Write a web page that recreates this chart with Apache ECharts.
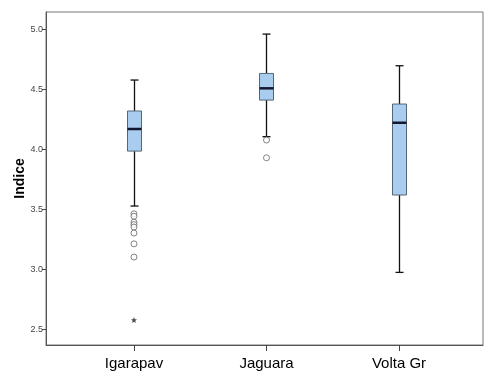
<!DOCTYPE html>
<html>
<head>
<meta charset="utf-8">
<script src="https://cdn.jsdelivr.net/npm/echarts@6/dist/echarts.min.js"></script>
<style>html,body{margin:0;padding:0;background:#fff;}#c{width:485px;height:372px;}</style>
</head>
<body>
<div id="c"></div>
<script>
var categories = ['Igarapav', 'Jaguara', 'Volta Gr'];
var lowerWhisker = [3.525, 4.103, 2.972];
var q1 = [3.983, 4.408, 3.617];
var median = [4.167, 4.506, 4.219];
var q3 = [4.317, 4.630, 4.375];
var upperWhisker = [4.575, 4.958, 4.694];
var outliersIgarapav = [3.46, 3.44, 3.39, 3.37, 3.35, 3.30, 3.21, 3.10];
var outliersJaguara = [4.075, 3.927];
var outliersVolta = [];
var extremesIgarapav = [2.575];
var yTicks = [2.5, 3.0, 3.5, 4.0, 4.5, 5.0];

var boxData = categories.map(function (c, i) {
  return [i + 1, lowerWhisker[i], q1[i], median[i], q3[i], upperWhisker[i]];
});
var outlierData = [];
[outliersIgarapav, outliersJaguara, outliersVolta].forEach(function (arr, i) {
  arr.forEach(function (v) { outlierData.push([i + 1, v]); });
});
var extremeData = extremesIgarapav.map(function (v) { return [1, v]; });

var chart = echarts.init(document.getElementById('c'), null, {renderer: 'canvas'});
chart.setOption({
  animation: false,
  backgroundColor: '#fff',
  grid: {left: 46, right: 2, top: 12, bottom: 27, show: true, borderColor: '#777', borderWidth: 1},
  xAxis: {
    type: 'value', min: 0.336, max: 3.634,
    splitLine: {show: false},
    axisLine: {show: true, lineStyle: {color: '#555', width: 1}},
    axisTick: {show: true, length: 6, lineStyle: {color: '#444'}, customValues: [1, 2, 3]},
    axisLabel: {
      customValues: [1, 2, 3], margin: 11,
      fontFamily: 'Liberation Sans, Arial, sans-serif', fontSize: 15, color: '#000',
      formatter: function (v) { return categories[Math.round(v) - 1] || ''; }
    }
  },
  yAxis: {
    type: 'value', min: 2.367, max: 5.142,
    name: 'Indice', nameLocation: 'middle', nameGap: 19, nameMoveOverlap: false,
    nameTextStyle: {fontFamily: 'Liberation Sans, Arial, sans-serif', fontSize: 14, fontWeight: 'bold', color: '#000'},
    splitLine: {show: false},
    axisLine: {show: true, lineStyle: {color: '#555', width: 1}},
    axisTick: {show: true, length: 4, lineStyle: {color: '#444'}, customValues: yTicks},
    axisLabel: {
      customValues: yTicks, margin: 3,
      fontFamily: 'Liberation Sans, Arial, sans-serif', fontSize: 9, color: '#444',
      formatter: function (v) { return v.toFixed(1); }
    }
  },
  series: [
    {
      type: 'custom',
      data: boxData,
      encode: {x: 0, y: [1, 2, 3, 4, 5]},
      renderItem: function (params, api) {
        var x = api.value(0);
        var pLow = api.coord([x, api.value(1)]);
        var pQ1 = api.coord([x, api.value(2)]);
        var pMed = api.coord([x, api.value(3)]);
        var pQ3 = api.coord([x, api.value(4)]);
        var pHigh = api.coord([x, api.value(5)]);
        var cx = Math.round(pLow[0]) + 0.5;
        var bw = 14, cw = 8;
        var lineStyle = {stroke: '#111', lineWidth: 1.3};
        return {
          type: 'group',
          children: [
            {type: 'line', shape: {x1: cx, y1: pHigh[1], x2: cx, y2: pQ3[1]}, style: lineStyle},
            {type: 'line', shape: {x1: cx, y1: pQ1[1], x2: cx, y2: pLow[1]}, style: lineStyle},
            {type: 'line', shape: {x1: cx - cw / 2, y1: pHigh[1], x2: cx + cw / 2, y2: pHigh[1]}, style: lineStyle},
            {type: 'line', shape: {x1: cx - cw / 2, y1: pLow[1], x2: cx + cw / 2, y2: pLow[1]}, style: lineStyle},
            {type: 'rect', shape: {x: cx - bw / 2, y: pQ3[1], width: bw, height: pQ1[1] - pQ3[1]},
              style: {fill: '#a9cdef', stroke: '#556677', lineWidth: 1}},
            {type: 'line', shape: {x1: cx - bw / 2, y1: pMed[1], x2: cx + bw / 2, y2: pMed[1]},
              style: {stroke: '#111830', lineWidth: 2.5}}
          ]
        };
      }
    },
    {
      type: 'scatter',
      data: outlierData,
      symbol: 'circle', symbolSize: 6,
      itemStyle: {color: '#fff', borderColor: '#555', borderWidth: 0.9}
    },
    {
      type: 'scatter',
      data: extremeData,
      symbol: 'path://M12,2 L14.9,8.9 L22,9.3 L16.5,14 L18.2,21 L12,17.3 L5.8,21 L7.5,14 L2,9.3 L9.1,8.9 Z',
      symbolSize: 6,
      itemStyle: {color: '#222'}
    }
  ]
});
</script>
</body>
</html>
